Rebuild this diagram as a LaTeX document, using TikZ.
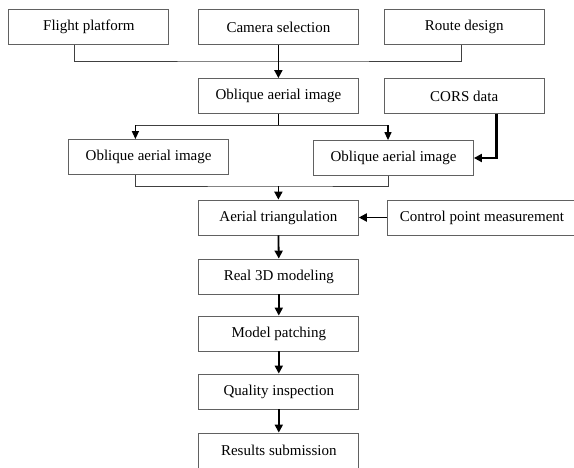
\documentclass[tikz,border=0pt]{standalone}
\usepackage{fontspec}
\setmainfont{Liberation Serif}
\usetikzlibrary{arrows.meta}
\begin{document}
\begin{tikzpicture}[x=1pt,y=-1pt,
  box/.style={draw=black!62,line width=0.8pt,minimum width=160pt,minimum height=35pt,inner sep=0pt,font=\fontsize{15}{18}\selectfont},
  link/.style={draw=black!75,line width=0.8pt},
  stem/.style={draw=black,line width=1.8pt},
  flow/.style={draw=black,line width=1.8pt,-{Triangle[length=8pt,width=8pt]}},
  flowthin/.style={draw=black,line width=1.2pt,-{Triangle[length=8pt,width=7pt]}},
]
\useasboundingbox (0,0) rectangle (574,467);
\clip (0,0) rectangle (574,467);
\node[box] (fp) at (88.8,27) {Flight platform};
\node[box] (cs) at (278.4,27) {Camera selection};
\node[box] (rd) at (464.2,27) {Route design};
\node[box] (oa) at (278.4,96) {Oblique aerial image};
\node[box] (cors) at (464.2,96) {CORS data};
\node[box] (ol) at (148.6,157) {Oblique aerial image};
\node[box] (or) at (393.5,158) {Oblique aerial image};
\node[box] (at) at (278.4,217.5) {Aerial triangulation};
\node[box,minimum width=190pt] (cp) at (482,217.5) {Control point measurement};
\node[box] (r3) at (278.8,276.5) {Real 3D modeling};
\node[box] (mp) at (278.8,333.5) {Model patching};
\node[box] (qi) at (278.8,391.5) {Quality inspection};
\node[box] (rs) at (278.8,450.5) {Results submission};
% top merge
\coordinate (tj) at (278.4,61);
\draw[link] ([xshift=-14.5pt]fp.south) |- (tj) -| ([xshift=-3pt]rd.south);
\draw[flow] (cs.south) -- (oa.north);
% branch
\coordinate (bj) at (278.4,125);
\draw[stem] (oa.south) -- (bj);
\draw[link] ([xshift=-13.2pt]ol.north |- bj) -- ([xshift=-5.5pt]or.north |- bj);
\draw[flowthin] ([xshift=-13.2pt]ol.north |- bj) -- ([xshift=-13.2pt]ol.north);
\draw[flowthin] ([xshift=-5.5pt]or.north |- bj) -- ([xshift=-5.5pt]or.north);
% CORS
\draw[flow,line width=2.5pt] ([xshift=32.5pt]cors.south) |- (or.east);
% merge
\coordinate (mj) at (278.4,186);
\draw[link] ([xshift=-13.2pt]ol.south) |- (mj) -| ([xshift=-5.5pt]or.south);
\draw[flow] (mj) -- (at.north);
\draw[flow] (cp.west) -- (at.east);
% chain
\draw[flow] (at.south) -- (r3.north);
\draw[flow] (r3.south) -- (mp.north);
\draw[flow] (mp.south) -- (qi.north);
\draw[flow] (qi.south) -- (rs.north);
\end{tikzpicture}
\end{document}
